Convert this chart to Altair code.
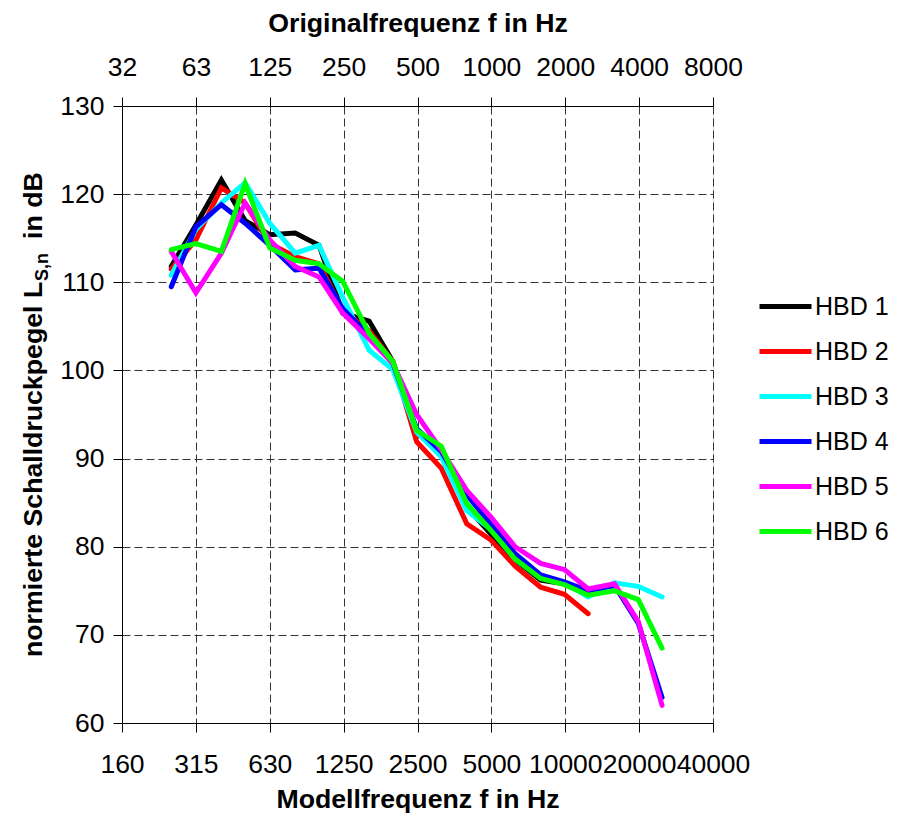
import altair as alt
import pandas as pd

# third-octave band centre frequencies (Modellfrequenz, Hz)
freqs = [250, 315, 400, 500, 630, 800, 1000, 1250, 1600, 2000, 2500, 3150,
         4000, 5000, 6300, 8000, 10000, 12500, 16000, 20000, 25000]

hbd1 = [111.8, 116.5, 121.6, 117.0, 115.4, 115.6, 114.2, 106.5, 105.6, 101.0,
        93.0, 90.5, 84.5, 81.5, 78.5, 76.2, 75.8, 74.6]
hbd2 = [111.5, 114.8, 120.7, 119.0, 114.4, 112.9, 112.1, 106.8, 104.5, 101.0,
        91.9, 88.9, 82.6, 80.8, 77.8, 75.4, 74.6, 72.4]
hbd3 = [110.8, 116.0, 119.0, 121.3, 116.7, 113.3, 114.2, 108.3, 102.3, 100.1,
        93.0, 90.2, 84.1, 82.0, 78.6, 76.6, 75.9, 74.3, 75.9, 75.5, 74.3]
hbd4 = [109.5, 116.3, 118.8, 116.7, 114.2, 111.4, 111.6, 107.0, 104.0, 100.8,
        93.4, 90.8, 85.9, 82.6, 79.2, 76.8, 76.0, 75.0, 75.6, 71.3, 62.9]
hbd5 = [113.5, 108.8, 113.3, 119.0, 114.8, 111.8, 110.6, 106.5, 103.6, 100.8,
        95.0, 91.0, 86.4, 83.4, 80.0, 78.1, 77.4, 75.2, 75.8, 71.5, 62.0]
hbd6 = [113.7, 114.4, 113.5, 121.2, 113.9, 112.5, 112.1, 110.1, 104.2, 101.0,
        93.2, 91.4, 84.9, 81.9, 78.6, 76.4, 75.7, 74.5, 75.0, 74.0, 68.5]

series_names = ["HBD 1", "HBD 2", "HBD 3", "HBD 4", "HBD 5", "HBD 6"]
series_values = [hbd1, hbd2, hbd3, hbd4, hbd5, hbd6]
series_colors = ["#000000", "#ff0000", "#00ffff", "#0000ff", "#ff00ff", "#00ff00"]

bottom_labels = ["160", "315", "630", "1250", "2500", "5000", "10000", "20000", "40000"]
top_labels = ["32", "63", "125", "250", "500", "1000", "2000", "4000", "8000"]
y_ticks = [60, 70, 80, 90, 100, 110, 120, 130]

rows = []
for name, vals in zip(series_names, series_values):
    for f, v in zip(freqs, vals):
        rows.append({"f": f, "L": v, "serie": name})
df = pd.DataFrame(rows)

# octave tick positions (exact third-octave base-2 series)
tick_pos = [1000 * 2 ** (k / 3) for k in range(-8, 17, 3)]
xdomain = [tick_pos[0], tick_pos[-1]]
xscale = alt.Scale(type="log", domain=xdomain, nice=False)


def lab_expr(labels):
    arr = "[" + ",".join("'" + s + "'" for s in labels) + "]"
    return f"{arr}[round(log(datum.value/{tick_pos[0]})/LN2)]"


FONT = "Liberation Sans"
LFS = 26.5
TFS = 26.7
common_axis = dict(
    labelFontSize=LFS, labelColor="black", labelFont=FONT,
    titleFontSize=TFS, titleFont=FONT, titleFontWeight="bold", titleColor="black",
    domainColor="black", tickColor="black", tickSize=9,
    labelOverlap=False, labelFlush=False, labelBound=False,
)

lines = alt.Chart(df).mark_line(strokeWidth=5, strokeCap="round").encode(
    x=alt.X("f:Q", scale=xscale,
            axis=alt.Axis(values=tick_pos, labelExpr=lab_expr(bottom_labels),
                          title="Modellfrequenz f in Hz", grid=True,
                          gridDash=[8, 4], gridColor="#333333",
                          labelPadding=19, titlePadding=9, **common_axis)),
    y=alt.Y("L:Q", scale=alt.Scale(domain=[60, 130], nice=False, zero=False),
            axis=alt.Axis(values=y_ticks, title=None, grid=True, gridDash=[8, 4],
                          gridColor="#333333", labelPadding=9, **common_axis)),
    color=alt.Color("serie:N",
                    scale=alt.Scale(domain=series_names, range=series_colors),
                    legend=alt.Legend(title=None, orient="none", legendX=635,
                                      legendY=172, symbolType="stroke",
                                      symbolSize=2704, symbolStrokeWidth=5,
                                      rowPadding=3, labelFontSize=25,
                                      labelFont=FONT, labelColor="black",
                                      labelOffset=1, padding=0)),
    order=alt.Order("f:Q"),
)

top = alt.Chart(pd.DataFrame({"f": tick_pos})).mark_rule(opacity=0).encode(
    x=alt.X("f:Q", scale=xscale,
            axis=alt.Axis(orient="top", values=tick_pos,
                          labelExpr=lab_expr(top_labels),
                          title="Originalfrequenz f in Hz", grid=False,
                          labelPadding=16, titlePadding=17, **common_axis)),
)

title_df = pd.DataFrame({"t": ["normierte Schalldruckpegel L"]})
ytitle_main = alt.Chart(title_df).mark_text(
    angle=270, align="left", baseline="alphabetic", fontSize=TFS,
    fontWeight="bold", font=FONT, color="black"
).encode(x=alt.value(-80), y=alt.value(551), text="t:N")

ytitle_sub = alt.Chart(pd.DataFrame({"t": ["S,n"]})).mark_text(
    angle=270, align="left", baseline="alphabetic", fontSize=18,
    fontWeight="bold", font=FONT, color="black"
).encode(x=alt.value(-74), y=alt.value(175), text="t:N")

ytitle_end = alt.Chart(pd.DataFrame({"t": ["in dB"]})).mark_text(
    angle=270, align="left", baseline="alphabetic", fontSize=TFS,
    fontWeight="bold", font=FONT, color="black"
).encode(x=alt.value(-80), y=alt.value(133), text="t:N")

chart = alt.layer(lines, top, ytitle_main, ytitle_sub, ytitle_end).resolve_scale(
    x="independent"
).properties(
    width=591, height=617,
    autosize=alt.AutoSizeParams(type="none"),
    padding={"left": 114, "top": 98, "right": 177, "bottom": 90},
).configure_view(stroke="black", strokeWidth=1).configure(background="white")

chart.save("out.html", embed_options={"renderer": "svg", "actions": False})
